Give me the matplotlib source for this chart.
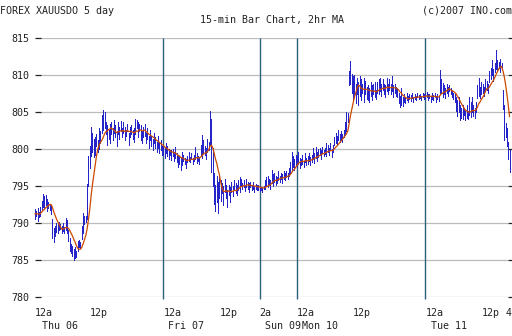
import numpy as np
import pandas as pd
import matplotlib
matplotlib.use("Agg")
import matplotlib.pyplot as plt
import matplotlib.transforms as mtransforms

# 15-minute bars, one list of lows and one of highs per trading session
thu_low = [790.6, 790.9, 790.3, 790.8, 791.0, 791.8, 792.2, 791.9, 792.4, 791.6, 792.0, 791.7,
           791.2, 788.0, 787.4, 788.2, 788.8, 788.6, 789.0, 789.2, 788.7, 788.9, 788.6, 789.0,
           788.6, 787.6, 786.2, 786.0, 785.6, 785.0, 785.3, 785.4, 786.2, 786.8, 786.6, 787.8,
           788.6, 789.8, 790.2, 790.6, 795.0, 797.4, 799.0, 799.6, 798.9, 799.2, 800.4, 799.6,
           800.0, 800.8, 802.2, 802.6, 802.8, 802.0, 800.6, 801.4, 800.8, 802.0, 801.2, 802.2,
           801.6, 800.4, 802.0, 801.4, 802.4, 801.6, 802.2, 801.2, 801.8, 802.4, 800.6, 801.6,
           802.0, 801.4, 801.0, 802.0, 802.8, 801.6, 802.4, 801.2, 800.8, 801.6, 801.8, 800.8,
           801.4, 800.2, 801.2, 800.4, 799.8, 800.8, 800.2, 799.6, 800.2, 799.4, 799.8, 799.2]
thu_high = [791.9, 791.6, 792.0, 791.5, 792.2, 793.0, 793.9, 793.7, 793.8, 793.2, 792.8, 792.6,
            792.4, 790.5, 789.3, 789.6, 790.0, 789.8, 790.1, 789.9, 789.6, 790.0, 789.5, 790.7,
            790.4, 789.0, 788.0, 787.2, 786.9, 786.5, 786.8, 786.2, 787.6, 787.7, 787.4, 789.6,
            791.3, 791.0, 791.0, 795.3, 799.0, 800.4, 803.0, 802.2, 801.4, 801.6, 802.0, 801.2,
            802.8, 802.4, 804.6, 805.3, 805.0, 803.6, 803.2, 802.6, 803.4, 803.6, 802.8, 803.9,
            803.2, 802.4, 803.6, 803.0, 803.8, 802.8, 803.6, 803.0, 802.6, 803.4, 802.2, 803.0,
            803.2, 802.6, 802.8, 804.1, 803.9, 803.6, 803.4, 803.2, 802.4, 803.0, 803.4, 802.2,
            802.8, 801.8, 802.6, 801.8, 801.4, 802.2, 801.6, 801.0, 801.8, 800.8, 801.2, 800.4]

fri_low = [799.2, 798.8, 799.4, 799.0, 798.6, 799.2, 798.5, 799.0, 798.4, 798.8, 798.2, 797.6,
           798.0, 797.2, 797.8, 798.4, 798.0, 797.4, 798.2, 798.4, 798.2, 798.6, 798.0, 798.4,
           798.6, 798.1, 798.4, 798.0, 799.0, 798.8, 799.4, 799.2, 798.6, 799.6, 799.8, 800.6,
           796.9, 795.0, 792.6, 791.6, 792.8, 791.4, 793.4, 793.0, 794.0, 792.4, 794.2, 793.4,
           792.2, 793.8, 792.8, 794.2, 793.6, 794.6, 794.0, 793.8, 794.4, 794.2, 795.0, 794.6,
           794.8, 794.3, 794.8, 794.6, 794.2, 794.9, 794.5, 794.6, 794.2, 794.6, 794.4, 794.5]
fri_high = [800.6, 800.2, 800.8, 800.4, 800.0, 799.9, 799.8, 800.0, 799.6, 800.3, 799.4, 799.2,
            799.0, 798.8, 799.6, 799.2, 798.8, 798.6, 799.0, 799.6, 798.9, 799.5, 798.8, 799.2,
            800.3, 799.4, 799.0, 798.9, 800.6, 801.9, 801.2, 800.4, 800.2, 801.4, 801.0, 805.1,
            804.0, 800.2, 796.8, 795.2, 796.4, 795.6, 796.2, 795.8, 795.4, 795.0, 796.0, 795.2,
            794.4, 795.2, 794.8, 795.6, 795.0, 795.8, 795.4, 795.2, 795.8, 796.2, 795.9, 795.4,
            795.8, 795.2, 796.0, 795.6, 795.4, 795.6, 795.2, 795.5, 795.0, 795.3, 795.1, 795.2]

sun_low = [794.3, 794.5, 794.2, 794.6, 794.6, 795.0, 794.8, 795.2, 794.6, 795.4, 795.0, 795.6,
           795.2, 795.4, 795.8, 795.6, 795.9, 795.4, 796.0, 795.8, 796.2, 795.9, 796.4, 796.6,
           797.0, 797.6, 797.2, 797.8]
sun_high = [795.0, 794.9, 794.8, 795.0, 795.8, 796.2, 796.4, 796.0, 795.8, 797.2, 796.6, 796.8,
            796.4, 796.2, 797.0, 796.4, 796.8, 796.6, 797.0, 796.7, 797.0, 796.8, 797.4, 798.2,
            799.6, 799.0, 798.6, 799.2]

mon_low = [797.6, 798.0, 797.4, 797.8, 798.0, 797.6, 798.2, 797.8, 798.0, 798.4, 797.9, 798.2,
           798.6, 798.1, 798.8, 798.4, 798.9, 799.2, 798.6, 799.4, 799.0, 799.3, 799.0, 799.6,
           799.2, 799.8, 798.9, 799.6, 800.5, 800.8, 800.6, 801.2, 800.9, 801.4, 801.0, 801.6,
           801.9, 802.4, 803.6, 808.6, 808.8, 807.6, 806.6, 807.0, 806.2, 807.4, 806.0, 807.2,
           806.6, 807.6, 806.4, 807.4, 806.8, 806.6, 806.4, 807.2, 806.6, 807.4, 807.0, 806.8,
           807.6, 807.4, 807.8, 807.2, 808.0, 807.4, 807.0, 807.8, 807.4, 808.0, 807.4, 807.8,
           807.0, 807.6, 807.2, 807.0, 806.2, 805.7, 806.0, 805.8, 806.4, 806.2, 806.6, 806.4,
           806.8, 806.5, 806.9, 806.4, 806.8, 806.6, 807.0, 806.7, 806.9, 806.6, 807.0, 806.8]
mon_high = [799.0, 799.6, 798.8, 798.6, 799.2, 798.4, 799.4, 798.8, 799.0, 799.5, 798.9, 799.2,
            800.2, 799.4, 800.3, 799.6, 800.0, 800.2, 799.8, 800.3, 799.8, 800.1, 800.8, 800.6,
            800.2, 800.8, 800.0, 800.5, 801.6, 802.2, 801.8, 802.6, 802.0, 802.4, 802.0, 802.6,
            803.6, 805.0, 804.8, 810.6, 811.9, 810.2, 809.8, 810.0, 808.8, 809.6, 809.0, 809.8,
            809.4, 808.8, 809.6, 809.2, 808.4, 808.6, 808.2, 809.0, 808.6, 808.8, 809.0, 808.0,
            809.0, 809.4, 809.6, 808.8, 809.4, 808.8, 808.6, 809.6, 808.8, 809.4, 808.8, 809.8,
            808.6, 808.8, 808.4, 808.2, 807.6, 807.2, 808.2, 807.0, 807.4, 807.0, 807.6, 807.2,
            807.4, 807.3, 807.6, 807.0, 807.5, 807.2, 807.6, 807.3, 807.5, 807.2, 807.6, 807.4]

tue_low = [806.8, 807.0, 806.6, 806.9, 806.4, 806.8, 806.6, 807.0, 806.3, 806.8, 806.5, 807.4,
           807.6, 807.0, 807.4, 806.9, 807.6, 807.2, 807.8, 807.4, 807.0, 806.8, 806.4, 805.2,
           804.4, 805.0, 803.9, 804.2, 804.0, 804.6, 803.9, 804.2, 804.0, 804.6, 804.3, 805.0,
           804.4, 804.2, 805.0, 806.9, 807.2, 806.9, 807.4, 807.6, 807.2, 807.8, 808.0, 807.6,
           809.0, 809.4, 810.0, 809.2, 810.4, 810.8, 810.6, 811.0, 810.4, 810.8, 805.4, 801.2,
           801.6, 800.4, 798.6, 796.9]
tue_high = [807.6, 807.7, 807.4, 807.5, 807.2, 807.6, 807.3, 807.6, 807.2, 807.4, 807.2, 810.7,
            809.4, 808.9, 808.6, 808.2, 808.8, 808.4, 808.6, 808.2, 808.0, 807.6, 807.4, 807.0,
            806.6, 807.0, 806.0, 805.6, 806.0, 805.4, 805.2, 806.0, 805.2, 807.0, 806.4, 807.0,
            806.0, 805.6, 806.4, 808.6, 809.6, 808.4, 809.0, 808.8, 808.4, 809.4, 809.2, 808.8,
            810.6, 811.0, 812.0, 810.8, 811.6, 813.4, 812.0, 811.8, 812.2, 811.6, 808.0, 806.0,
            803.5, 802.8, 801.0, 799.8]

session_lows = [thu_low, fri_low, sun_low, mon_low, tue_low]
session_highs = [thu_high, fri_high, sun_high, mon_high, tue_high]

y_ticks = [780, 785, 790, 795, 800, 805, 810, 815]
time_labels = ["12a", "12p", "12a", "12p", "2a", "12a", "12p", "12a", "12p", "4"]
time_label_bars = [0, 41, 96, 138, 168, 196, 238, 292, 334, 352.4]
day_labels = ["Thu 06", "Fri 07", "Sun 09", "Mon 10", "Tue 11"]
day_label_bars = [5.2, 99.3, 172.1, 199.7, 296.3]

low = np.concatenate(session_lows)
high = np.concatenate(session_highs)
idx = np.arange(len(low))
mid = (low + high) / 2
ma = pd.Series(mid).rolling(8, min_periods=1).mean().to_numpy()  # 2-hour MA of 15-min bars
session_starts = np.cumsum([0] + [len(s) for s in session_lows])[1:-1]

W, H = 512, 336
fig = plt.figure(figsize=(W / 100, H / 100), dpi=100)
fig.patch.set_facecolor("white")
ax = fig.add_axes([41 / W, 1 - 297 / H, (508 - 41) / W, (297 - 38) / H])

px_per_bar = 1.3367
x0 = 35.0
ax.set_xlim((41 - x0) / px_per_bar, (508 - x0) / px_per_bar)
ax.set_ylim(780, 815)

mono = "DejaVu Sans Mono"
fs = 7.2

for y in y_ticks:
    ax.axhline(y, color="#bbbbbb", lw=0.9, zorder=1)

ax.vlines(session_starts, 779.7, 815, colors="#2d5f7e", lw=1.0, zorder=2, clip_on=False)

ax.vlines(idx, low, high, colors="#2424c8", lw=0.72, zorder=3, clip_on=False,
          antialiased=False)
ax.plot(idx, ma, color="#cc4a00", lw=0.9, zorder=4, clip_on=False)

for s in ax.spines.values():
    s.set_visible(False)

ax.set_yticks(y_ticks)
ax.set_yticklabels([str(v) for v in y_ticks], fontfamily=mono, fontsize=fs, color="#222222")
ax.tick_params(axis="y", which="both", left=True, right=True, length=4.0, width=0.9,
               color="#222222", pad=4.2, direction="out")
ax.set_xticks([])

trans = mtransforms.blended_transform_factory(ax.transData, ax.transAxes)
for lab, b in zip(time_labels, time_label_bars):
    ax.text(b, -0.0618, lab, transform=trans, ha="left", va="center",
            fontfamily=mono, fontsize=fs, color="#222222", clip_on=False)
for lab, b in zip(day_labels, day_label_bars):
    ax.text(b, -0.112, lab, transform=trans, ha="left", va="center",
            fontfamily=mono, fontsize=fs, color="#222222", clip_on=False)

fig.text(0.0, 1 - 10.5 / H, "FOREX XAUUSDO 5 day", ha="left", va="center",
         fontfamily=mono, fontsize=fs, color="#222222")
fig.text(1.0, 1 - 10.5 / H, "(c)2007 INO.com", ha="right", va="center",
         fontfamily=mono, fontsize=fs, color="#222222")
fig.text(272.5 / W, 1 - 20.5 / H, "15-min Bar Chart, 2hr MA", ha="center", va="center",
         fontfamily=mono, fontsize=fs, color="#222222")

fig.savefig("out.png", dpi=100, facecolor="white")
